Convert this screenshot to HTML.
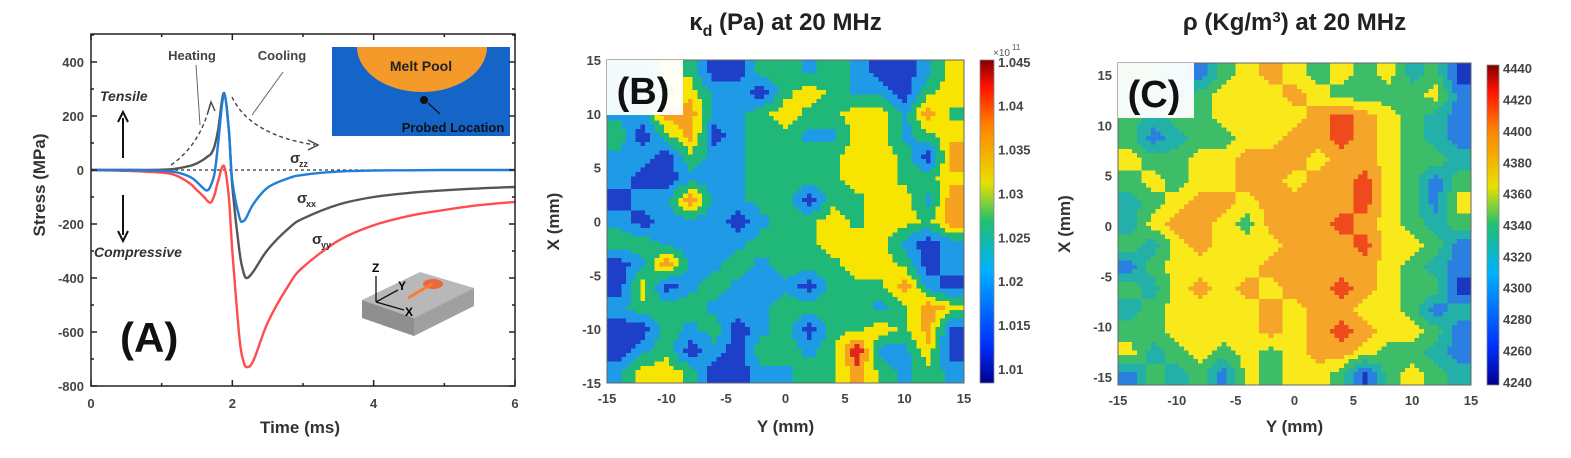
<!DOCTYPE html>
<html><head><meta charset="utf-8"><style>
html,body{margin:0;padding:0;background:#fff;}
svg{display:block;font-family:"Liberation Sans",sans-serif;}
.tk{font-size:13px;font-weight:bold;fill:#444;}
.ax{font-size:17px;font-weight:bold;fill:#333;}
</style></head><body>
<svg id="fig" width="1571" height="458" viewBox="0 0 1571 458">
<defs>
<linearGradient id="jet" x1="0" y1="1" x2="0" y2="0">
<stop offset="0" stop-color="#00008f"/><stop offset="0.12" stop-color="#0030ff"/><stop offset="0.35" stop-color="#00b0ff"/><stop offset="0.5" stop-color="#20c070"/><stop offset="0.62" stop-color="#e8e000"/><stop offset="0.8" stop-color="#ff8000"/><stop offset="0.92" stop-color="#ff1000"/><stop offset="1" stop-color="#800000"/>
</linearGradient>
</defs>
<g id="panelA"></g>
<g id="panelB"></g>
<g id="panelC"></g>
</svg>
<script>
// ---------- Panel A data ----------
const times = [0,0.5,1,1.2,1.4,1.5,1.6,1.65,1.7,1.75,1.8,1.88,1.95,2.0,2.1,2.15,2.2,2.3,2.5,2.8,3,3.5,4,4.5,5,5.5,6];
const sigmaZZ = [0,0,-3,-8,-25,-45,-70,-75,-55,-10,100,280,150,-40,-175,-190,-175,-125,-65,-30,-18,-6,-2,-1,0,0,0];
const sigmaXX = [0,0,1,5,15,25,40,50,60,90,150,285,150,-60,-300,-370,-400,-375,-295,-215,-180,-128,-100,-85,-75,-68,-63];
const sigmaYY = [0,-3,-10,-20,-50,-75,-100,-115,-120,-90,-40,15,-100,-300,-620,-700,-730,-705,-565,-425,-360,-262,-205,-170,-148,-130,-118];
const aXTicks = [0,2,4,6];
const aYTicks = [400,200,0,-200,-400,-600,-800];

// ---------- Panel B data (kappa, Pa x1e11); rows X=14..-14, cols Y=-14..14 ----------
const kappaValues = [
[1.018,1.018,1.028,1.023,1.012,1.012,1.023,1.023,1.018,1.023,1.018,1.012,1.012,1.018,1.028],
[1.018,1.018,1.023,1.028,1.018,1.018,1.012,1.023,1.028,1.023,1.018,1.018,1.012,1.023,1.028],
[1.018,1.018,1.033,1.033,1.018,1.018,1.023,1.028,1.023,1.023,1.028,1.028,1.018,1.033,1.023],
[1.023,1.012,1.023,1.033,1.012,1.018,1.023,1.023,1.018,1.018,1.028,1.028,1.018,1.023,1.028],
[1.018,1.018,1.012,1.023,1.018,1.018,1.023,1.023,1.023,1.023,1.028,1.028,1.023,1.012,1.033],
[1.018,1.012,1.012,1.018,1.018,1.018,1.023,1.023,1.023,1.023,1.028,1.028,1.023,1.023,1.028],
[1.012,1.018,1.018,1.033,1.018,1.018,1.023,1.023,1.012,1.023,1.023,1.028,1.028,1.018,1.033],
[1.018,1.012,1.018,1.018,1.018,1.012,1.018,1.023,1.023,1.028,1.023,1.028,1.028,1.023,1.033],
[1.023,1.023,1.018,1.018,1.018,1.018,1.023,1.023,1.023,1.028,1.028,1.028,1.018,1.012,1.018],
[1.012,1.018,1.033,1.018,1.018,1.023,1.018,1.023,1.023,1.023,1.028,1.028,1.023,1.012,1.018],
[1.012,1.028,1.012,1.018,1.023,1.018,1.018,1.018,1.012,1.023,1.023,1.023,1.033,1.018,1.012],
[1.018,1.023,1.023,1.023,1.018,1.018,1.018,1.023,1.023,1.023,1.023,1.018,1.023,1.033,1.028],
[1.012,1.012,1.023,1.018,1.023,1.012,1.018,1.023,1.012,1.023,1.023,1.028,1.023,1.033,1.012],
[1.012,1.018,1.023,1.012,1.018,1.012,1.023,1.023,1.018,1.023,1.040,1.018,1.018,1.028,1.012],
[1.018,1.028,1.028,1.023,1.012,1.012,1.018,1.018,1.023,1.023,1.033,1.023,1.018,1.023,1.018]
];
const kappaTicks = [1.045,1.04,1.035,1.03,1.025,1.02,1.015,1.01];
const mapTicks = [-15,-10,-5,0,5,10,15];

// ---------- Panel C data (density kg/m3) ----------
const rhoValues = [
[4340,4340,4320,4300,4340,4360,4380,4360,4340,4360,4340,4360,4320,4340,4280],
[4320,4340,4300,4340,4360,4360,4360,4380,4360,4340,4340,4340,4340,4360,4300],
[4340,4320,4340,4340,4360,4360,4360,4360,4380,4400,4380,4360,4340,4320,4300],
[4340,4300,4320,4340,4340,4360,4360,4380,4380,4400,4380,4360,4340,4320,4300],
[4360,4340,4340,4360,4360,4380,4380,4380,4360,4380,4380,4360,4340,4340,4320],
[4340,4360,4340,4360,4360,4380,4380,4360,4380,4380,4400,4360,4340,4300,4340],
[4320,4340,4360,4380,4380,4360,4380,4380,4380,4380,4400,4360,4340,4300,4360],
[4320,4360,4380,4380,4360,4340,4380,4380,4380,4400,4380,4360,4340,4320,4340],
[4340,4320,4360,4380,4360,4360,4360,4380,4380,4380,4400,4360,4360,4340,4300],
[4300,4340,4360,4360,4360,4360,4380,4380,4380,4380,4380,4360,4340,4320,4300],
[4340,4320,4360,4380,4360,4380,4360,4380,4380,4400,4380,4360,4340,4340,4280],
[4320,4340,4360,4360,4360,4360,4380,4360,4380,4380,4360,4360,4340,4300,4320],
[4340,4340,4360,4360,4360,4360,4380,4360,4380,4400,4380,4360,4360,4340,4300],
[4360,4320,4340,4360,4340,4360,4340,4360,4380,4380,4360,4340,4340,4320,4300],
[4300,4340,4320,4340,4300,4360,4340,4360,4360,4340,4280,4340,4360,4340,4320]
];
const rhoTicks = [4440,4420,4400,4380,4360,4340,4320,4300,4280,4260,4240];

const NS = "http://www.w3.org/2000/svg";
function mk(parent, tag, attrs, text){
  const e = document.createElementNS(NS, tag);
  for (const k in attrs) e.setAttribute(k, attrs[k]);
  if (text !== undefined) e.textContent = text;
  parent.appendChild(e);
  return e;
}
function smoothPath(P){
  let d = 'M'+P[0][0].toFixed(1)+' '+P[0][1].toFixed(1);
  for (let i=0;i<P.length-1;i++){
    const p0=P[Math.max(0,i-1)], p1=P[i], p2=P[i+1], p3=P[Math.min(P.length-1,i+2)];
    const c1=[p1[0]+(p2[0]-p0[0])/6, p1[1]+(p2[1]-p0[1])/6];
    const c2=[p2[0]-(p3[0]-p1[0])/6, p2[1]-(p3[1]-p1[1])/6];
    d+=' C'+c1[0].toFixed(1)+' '+c1[1].toFixed(1)+' '+c2[0].toFixed(1)+' '+c2[1].toFixed(1)+' '+p2[0].toFixed(1)+' '+p2[1].toFixed(1);
  }
  return d;
}

// ================= Panel A =================
(function(){
  const g = document.getElementById('panelA');
  const L=91, R=515, T=34, B=386;
  const xs = t => L + (t/6)*(R-L);
  const ys = v => 170 - v*0.27;
  const inset = mk(g,'g',{});
  
  
  mk(inset,'rect',{x:332,y:47,width:178,height:89,fill:'#1565c8'});
  mk(inset,'path',{d:'M357 47 A65 45 0 0 0 487 47 Z',fill:'#f39a2a'});
  mk(inset,'circle',{cx:424,cy:100,r:4,fill:'#111'});
  mk(inset,'line',{x1:428,y1:103,x2:440,y2:114,stroke:'#111','stroke-width':1.2});
  mk(inset,'text',{x:421,y:71,'text-anchor':'middle','font-size':14,'font-weight':'bold',fill:'#222'},'Melt Pool');
  mk(inset,'text',{x:453,y:132,'text-anchor':'middle','font-size':13,'font-weight':'bold',fill:'#111'},'Probed Location');
  const z = mk(g,'line',{x1:L,y1:ys(0),x2:R,y2:ys(0),stroke:'#333','stroke-width':1.3,'stroke-dasharray':'3,3'});
  
  
  const series = [[sigmaYY,'#ff4d4d','sigma-yy-line'],[sigmaXX,'#555','sigma-xx-line'],[sigmaZZ,'#1f7fd8','sigma-zz-line']];
  series.forEach(s=>{
    const P = times.map((t,i)=>[xs(t), ys(s[0][i])]);
    const p = mk(g,'path',{d:smoothPath(P),fill:'none',stroke:s[1],'stroke-width':2.4,'stroke-linejoin':'round'});
    
    
  });
  mk(g,'rect',{x:L,y:T,width:R-L,height:B-T,fill:'none',stroke:'#222','stroke-width':1.5});
  for (let t=0;t<=6;t+=1){
    const len = t%2===0?6:3;
    mk(g,'line',{x1:xs(t),y1:B,x2:xs(t),y2:B-len,stroke:'#222','stroke-width':1.5});
    mk(g,'line',{x1:xs(t),y1:T,x2:xs(t),y2:T+len,stroke:'#222','stroke-width':1.5});
  }
  aXTicks.forEach(t=>{
    const e = mk(g,'text',{x:xs(t),y:B+22,'text-anchor':'middle',class:'tk'},String(t));
    
    
  });
  for (let v=-800; v<=500; v+=100){
    const len = v%200===0?6:3;
    mk(g,'line',{x1:L,y1:ys(v),x2:L+len,y2:ys(v),stroke:'#222','stroke-width':1.5});
    mk(g,'line',{x1:R,y1:ys(v),x2:R-len,y2:ys(v),stroke:'#222','stroke-width':1.5});
  }
  aYTicks.forEach(v=>{
    const e = mk(g,'text',{x:L-7,y:ys(v)+5,'text-anchor':'end',class:'tk'},String(v));
    
    
  });
  const xt = mk(g,'text',{x:300,y:433,'text-anchor':'middle',class:'ax'},'Time (ms)');
  
  
  const yt = mk(g,'text',{x:0,y:0,'text-anchor':'middle',class:'ax',transform:'translate(45,185) rotate(-90)'},'Stress (MPa)');
  
  
  mk(g,'text',{x:192,y:60,'text-anchor':'middle','font-size':13,'font-weight':'bold',fill:'#444'},'Heating');
  mk(g,'text',{x:282,y:60,'text-anchor':'middle','font-size':13,'font-weight':'bold',fill:'#444'},'Cooling');
  mk(g,'text',{x:100,y:101,'font-size':14,'font-weight':'bold','font-style':'italic',fill:'#333'},'Tensile');
  mk(g,'text',{x:94,y:257,'font-size':14,'font-weight':'bold','font-style':'italic',fill:'#333'},'Compressive');
  mk(g,'path',{d:'M123 158 L123 118 M118 122 L123 112 L128 122',stroke:'#111','stroke-width':2,fill:'none'});
  mk(g,'path',{d:'M123 195 L123 235 M118 231 L123 241 L128 231',stroke:'#111','stroke-width':2,fill:'none'});
  mk(g,'path',{d:'M171 165 Q200 145 210 105',stroke:'#444','stroke-width':1.4,'stroke-dasharray':'4,3',fill:'none'});
  mk(g,'path',{d:'M208 112 L211 102 L215 111',stroke:'#444','stroke-width':1.4,fill:'none'});
  mk(g,'path',{d:'M232 97 Q250 135 315 145',stroke:'#444','stroke-width':1.4,'stroke-dasharray':'4,3',fill:'none'});
  mk(g,'path',{d:'M308 140 L318 145 L308 150',stroke:'#444','stroke-width':1.4,fill:'none'});
  mk(g,'line',{x1:196,y1:65,x2:200,y2:125,stroke:'#666','stroke-width':1});
  mk(g,'line',{x1:283,y1:72,x2:252,y2:115,stroke:'#666','stroke-width':1});
  mk(g,'text',{x:290,y:163,'font-size':15,'font-weight':'bold',fill:'#333'},'σ');
  mk(g,'text',{x:299,y:167,'font-size':9,'font-weight':'bold',fill:'#333'},'zz');
  mk(g,'text',{x:297,y:203,'font-size':15,'font-weight':'bold',fill:'#333'},'σ');
  mk(g,'text',{x:306,y:207,'font-size':9,'font-weight':'bold',fill:'#333'},'xx');
  mk(g,'text',{x:312,y:244,'font-size':15,'font-weight':'bold',fill:'#333'},'σ');
  mk(g,'text',{x:321,y:248,'font-size':9,'font-weight':'bold',fill:'#333'},'yy');
  const la = mk(g,'text',{x:120,y:352,'font-size':42,'font-weight':'bold',fill:'#111'},'(A)');
  
  
  const blk = mk(g,'g',{});
  
  
  mk(blk,'polygon',{points:'362,300 420,272 474,288 414,318',fill:'#b8b8b8'});
  mk(blk,'polygon',{points:'362,300 414,318 414,336 362,318',fill:'#8f8f8f'});
  mk(blk,'polygon',{points:'414,318 474,288 474,306 414,336',fill:'#a0a0a0'});
  mk(blk,'ellipse',{cx:433,cy:284,rx:10,ry:5,fill:'#f05a28',opacity:0.85});
  mk(blk,'line',{x1:408,y1:298,x2:432,y2:284,stroke:'#ff7a30','stroke-width':3});
  mk(blk,'path',{d:'M376 302 L376 276 M376 302 L398 290 M376 302 L404 310',stroke:'#111','stroke-width':1.3,fill:'none'});
  mk(blk,'text',{x:372,y:272,'font-size':12,'font-weight':'bold'},'Z');
  mk(blk,'text',{x:398,y:290,'font-size':12,'font-weight':'bold'},'Y');
  mk(blk,'text',{x:405,y:316,'font-size':12,'font-weight':'bold'},'X');
})();

// ================= Heatmap panels =================
function heatmap(gid, values, colorFn, box, ext, cbar, cbTicks, cbRange, title, label, fmt){
  const g = document.getElementById(gid);
  const {L,R,T,B} = box;
  const rows = values.length, cols = values[0].length;
  const xs = v => L + (v-ext.x0)/(ext.x1-ext.x0)*(R-L);
  const ys = v => T + (ext.y1-v)/(ext.y1-ext.y0)*(B-T);
  const SUB = 5;
  const nr = rows*SUB, nc = cols*SUB;
  const cw = (R-L)/nc, ch = (B-T)/nr;
  const cells = mk(g,'g',{'shape-rendering':'crispEdges'});
  
  
  const val = (r,c)=>values[Math.max(0,Math.min(rows-1,r))][Math.max(0,Math.min(cols-1,c))];
  for (let i=0;i<nr;i++){
    const fy = (i+0.5)/SUB - 0.5; const r0 = Math.floor(fy), ty = fy - r0;
    for (let j=0;j<nc;j++){
      const fx = (j+0.5)/SUB - 0.5; const c0 = Math.floor(fx), tx = fx - c0;
      const v = (1-ty)*((1-tx)*val(r0,c0)+tx*val(r0,c0+1)) + ty*((1-tx)*val(r0+1,c0)+tx*val(r0+1,c0+1));
      const rc = mk(cells,'rect',{x:(L+j*cw).toFixed(1),y:(T+i*ch).toFixed(1),width:(cw+0.5).toFixed(1),height:(ch+0.5).toFixed(1),fill:colorFn(v)});
      
      
    }
  }
  mk(g,'rect',{x:L,y:T,width:R-L,height:B-T,fill:'none',stroke:'#666','stroke-width':1});
  mk(g,'rect',{x:L,y:T,width:76,height:55,fill:'#fff',opacity:0.95});
  const lt = mk(g,'text',{x:L+36,y:T+44,'text-anchor':'middle','font-size':38,'font-weight':'bold',fill:'#111'},label);
  
  
  mapTicks.forEach(v=>{
    const a = mk(g,'text',{x:xs(v),y:B+20,'text-anchor':'middle',class:'tk'},String(v));
    
    
    const b = mk(g,'text',{x:L-6,y:ys(v)+5,'text-anchor':'end',class:'tk'},String(v));
    
    
  });
  const xt = mk(g,'text',{x:(L+R)/2,y:432,'text-anchor':'middle',class:'ax'},'Y (mm)');
  
  
  const yt = mk(g,'text',{x:0,y:0,'text-anchor':'middle',class:'ax',transform:'translate('+(L-48)+','+((T+B)/2)+') rotate(-90)'},'X (mm)');
  
  
  const tt = mk(g,'text',{x:(L+R)/2,y:30,'text-anchor':'middle','font-size':24,'font-weight':'bold',fill:'#222'});
  tt.innerHTML = title;
  
  
  const cb = mk(g,'rect',{x:cbar.x,y:cbar.y0,width:cbar.w,height:cbar.y1-cbar.y0,fill:'url(#jet)',stroke:'#888','stroke-width':0.8});
  
  
  const cy = v => cbar.y1 - (v-cbRange[0])/(cbRange[1]-cbRange[0])*(cbar.y1-cbar.y0);
  cbTicks.forEach(v=>{
    const e = mk(g,'text',{x:cbar.x+cbar.w+4,y:cy(v)+5,class:'tk','font-size':12},fmt(v));
    
    
  });
}

const kappaColor = v => v<1.015?'#1e3fc8':v<1.02?'#1f9ae6':v<1.025?'#1fb879':v<1.03?'#f7e400':v<1.035?'#f6a21e':'#e3261a';
const rhoColor = v => v<4290?'#1838c0':v<4310?'#2a7fe0':v<4330?'#22b0a8':v<4350?'#3dbd68':v<4370?'#f9e81a':v<4390?'#f5a62a':'#ee4a1c';

heatmap('panelB', kappaValues, kappaColor, {L:607,R:964,T:60,B:383}, {x0:-15,x1:15,y0:-15,y1:15},
  {x:980,w:14,y0:60,y1:383}, kappaTicks, [1.0084,1.0452],
  'κ<tspan dy="6" font-size="16">d</tspan><tspan dy="-6"> (Pa) at 20 MHz</tspan>', '(B)', v=>String(v));
heatmap('panelC', rhoValues, rhoColor, {L:1118,R:1471,T:63,B:385}, {x0:-15,x1:15,y0:-15.8,y1:16.2},
  {x:1487,w:12,y0:65,y1:385}, rhoTicks, [4238,4442],
  'ρ (Kg/m<tspan dy="-8" font-size="15">3</tspan><tspan dy="8">) at 20 MHz</tspan>', '(C)', v=>String(v));
(function(){
  const g = document.getElementById('panelB');
  const e = mk(g,'text',{x:993,y:56,'font-size':10,fill:'#555'},'×10');
  
  
  mk(g,'text',{x:1012,y:50,'font-size':8,fill:'#555'},'11');
})();
</script>
</body></html>
